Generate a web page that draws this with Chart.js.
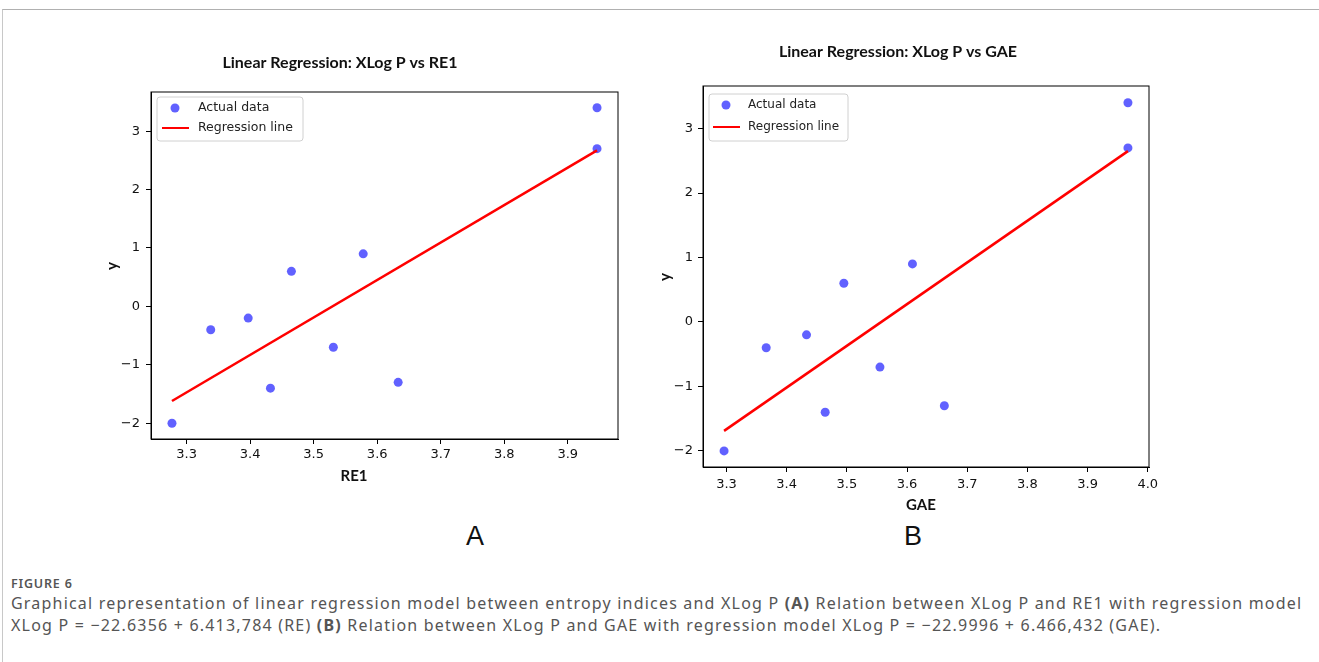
<!DOCTYPE html>
<html lang="en">
<head>
  <meta charset="UTF-8">
  <title>Figure 6</title>
  <script src="https://cdn.jsdelivr.net/npm/chart.js"></script>
  <style>
    body { margin: 0; background: #fff; width: 1319px; height: 662px; position: relative; overflow: hidden; }
    .frame { position: absolute; left: 2px; top: 9px; right: 0; bottom: 0; border-top: 1px solid #b0b0b0; border-left: 1px solid #c8c8c8; }
    .panel { position: absolute; top: 20px; height: 500px; }
    .tag { position: absolute; top: 523px; font: 27px/27px "Liberation Sans", Arial, sans-serif; color: #111; }
    .figno { position: absolute; left: 11px; top: 576px; font: 600 12.5px/15px "Noto Sans", sans-serif; letter-spacing: 0.8px; color: #555; }
    .caption { position: absolute; left: 11px; top: 592px; white-space: nowrap; font: 16px/22px "Noto Sans", sans-serif; letter-spacing: 1.2px; color: #555; }
  </style>
</head>
<body>
  <div class="frame"></div>
  <div class="panel" style="left:0;width:650px"><canvas id="chartA" width="650" height="500"></canvas></div>
  <div class="panel" style="left:650px;width:669px"><canvas id="chartB" width="669" height="500"></canvas></div>
  <div class="tag" style="left:466px">A</div>
  <div class="tag" style="left:904px">B</div>
  <div class="figno">FIGURE 6</div>
  <div class="caption">Graphical representation of linear regression model between entropy indices and XLog P <b>(A)</b> Relation between XLog P and RE1 with regression model<br>XLog P = −22.6356 + 6.413,784 (RE) <b>(B)</b> Relation between XLog P and GAE with regression model XLog P = −22.9996 + 6.466,432 (GAE).</div>

  <script>
    // values
    var xlogP = [-2.0, -0.4, -0.2, -1.4, 0.6, -0.7, 0.9, -1.3, 3.4, 2.7];
    var re1 = [3.277, 3.338, 3.397, 3.432, 3.465, 3.531, 3.578, 3.633, 3.946, 3.946];
    var gae = [3.296, 3.366, 3.433, 3.464, 3.495, 3.555, 3.609, 3.662, 3.967, 3.967];
    // regression line end points
    var re1LineX = [3.277, 3.946];
    var re1LineY = [-1.62, 2.67];
    var gaeLineX = [3.296, 3.967];
    var gaeLineY = [-1.69, 2.65];
    // tick labels
    var re1Ticks = [3.3, 3.4, 3.5, 3.6, 3.7, 3.8, 3.9];
    var gaeTicks = [3.3, 3.4, 3.5, 3.6, 3.7, 3.8, 3.9, 4.0];
    var yTicks = [-2, -1, 0, 1, 2, 3];

    var tickFont = { family: 'DejaVu Sans', size: 13 };

    function pts(xs, ys) {
      return xs.map(function(x, i) { return { x: x, y: ys[i] }; });
    }

    // frame, titles, axis labels and legend, drawn on the canvas
    var decor = {
      id: 'decor',
      afterDraw: function(chart) {
        var o = chart.options.plugins.decor;
        var ctx = chart.ctx, a = chart.chartArea;
        ctx.save();
        ctx.strokeStyle = '#000';
        ctx.lineWidth = 1;
        ctx.strokeRect(a.left, a.top, a.right - a.left, a.bottom - a.top);

        ctx.fillStyle = '#111';
        ctx.textAlign = 'center';
        ctx.textBaseline = 'alphabetic';
        ctx.font = 'bold 16px Lato, sans-serif';
        ctx.fillText(o.title, o.titleX, o.titleY);
        ctx.font = 'bold 15px Lato, sans-serif';
        ctx.fillText(o.xLabel, o.xLabelX, o.xLabelY);
        ctx.save();
        ctx.translate(o.yLabelX, o.yLabelY);
        ctx.rotate(-Math.PI / 2);
        ctx.textBaseline = 'middle';
        ctx.fillText('y', 0, 0);
        ctx.restore();

        // legend box
        var L = o.legend;
        var bx = a.left + L.dx, by = a.top + L.dy;
        ctx.beginPath();
        ctx.roundRect(bx, by, L.w, L.h, 3);
        ctx.fillStyle = 'rgba(255,255,255,0.85)';
        ctx.fill();
        ctx.strokeStyle = '#d0d0d0';
        ctx.stroke();
        ctx.beginPath();
        ctx.arc(bx + L.mark, by + L.row1, 4.5, 0, Math.PI * 2);
        ctx.fillStyle = 'rgba(0,0,255,0.62)';
        ctx.fill();
        ctx.beginPath();
        ctx.moveTo(bx + L.mark - 13, by + L.row2);
        ctx.lineTo(bx + L.mark + 14, by + L.row2);
        ctx.strokeStyle = '#f00';
        ctx.lineWidth = 2;
        ctx.stroke();
        ctx.fillStyle = '#222';
        ctx.font = L.font + 'px "DejaVu Sans"';
        ctx.textAlign = 'left';
        ctx.textBaseline = 'middle';
        ctx.fillText('Actual data', bx + L.text, by + L.row1);
        ctx.fillText('Regression line', bx + L.text, by + L.row2);
        ctx.restore();
      }
    };

    function makeChart(id, xs, lineX, lineY, xTicks, xr, yr, pad, yW, xPad, yPad, deco) {
      return new Chart(document.getElementById(id), {
        type: 'scatter',
        data: {
          datasets: [{
            label: 'Actual data',
            data: pts(xs, xlogP),
            backgroundColor: 'rgba(0,0,255,0.62)',
            borderWidth: 0,
            pointRadius: 4.5,
            order: 2
          }, {
            type: 'line',
            label: 'Regression line',
            data: pts(lineX, lineY),
            borderColor: '#f00',
            borderWidth: 2.5,
            pointRadius: 0,
            fill: false,
            order: 1
          }]
        },
        options: {
          responsive: false,
          animation: false,
          events: [],
          layout: { padding: pad },
          plugins: { legend: { display: false }, tooltip: { enabled: false }, decor: deco },
          scales: {
            x: {
              type: 'linear', min: xr[0], max: xr[1],
              afterBuildTicks: function(s) { s.ticks = xTicks.map(function(v) { return { value: v }; }); },
              afterFit: function(s) { s.height = 40; },
              grid: { drawOnChartArea: false, tickLength: 5, color: '#000' },
              border: { color: '#000' },
              ticks: { font: tickFont, color: '#111', padding: xPad, maxRotation: 0,
                callback: function(v) { return v.toFixed(1); } }
            },
            y: {
              min: yr[0], max: yr[1],
              afterBuildTicks: function(s) { s.ticks = yTicks.map(function(v) { return { value: v }; }); },
              afterFit: function(s) { s.width = yW; },
              grid: { drawOnChartArea: false, tickLength: 5, color: '#000' },
              border: { color: '#000' },
              ticks: { font: tickFont, color: '#111', padding: yPad,
                callback: function(v) { return v < 0 ? '\u2212' + Math.abs(v) : String(v); } }
            }
          }
        },
        plugins: [decor]
      });
    }

    makeChart('chartA', re1, re1LineX, re1LineY, re1Ticks, [3.244, 3.979], [-2.27, 3.67],
      { left: 91, top: 72, right: 32, bottom: 41 }, 60, 3, 6,
      { title: 'Linear Regression: XLog P vs RE1', titleX: 340, titleY: 48,
        xLabel: 'RE1', xLabelX: 354, xLabelY: 461, yLabelX: 112, yLabelY: 246,
        legend: { dx: 6, dy: 5, w: 146, h: 44, mark: 18, text: 41, row1: 11, row2: 31, font: 12.5 } });

    makeChart('chartB', gae, gaeLineX, gaeLineY, gaeTicks, [3.261, 4.002], [-2.25, 3.66],
      { left: 8, top: 66, right: 170, bottom: 13 }, 45, 5, 5,
      { title: 'Linear Regression: XLog P vs GAE', titleX: 248, titleY: 37,
        xLabel: 'GAE', xLabelX: 271, xLabelY: 490, yLabelX: 15, yLabelY: 257,
        legend: { dx: 6, dy: 8, w: 139, h: 47, mark: 17, text: 39, row1: 11, row2: 33, font: 12 } });
  </script>
</body>
</html>
